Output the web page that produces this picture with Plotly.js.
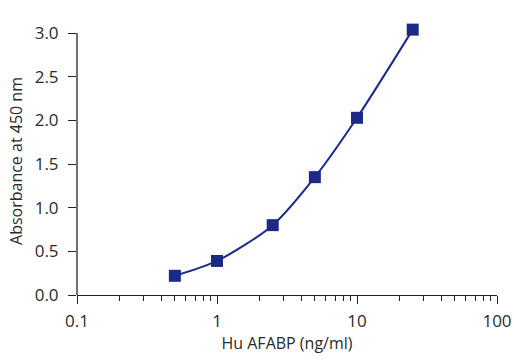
<!DOCTYPE html>
<html><head><meta charset="utf-8">
<script src="https://cdn.plot.ly/plotly-3.0.1.min.js"></script>
<style>html,body{margin:0;padding:0;background:#fff;}#c{width:514px;height:361px;}</style>
</head><body><div id="c"></div>
<script>
const concentration = [0.5, 1, 2.5, 5, 10, 25];
const absorbance = [0.22, 0.39, 0.80, 1.35, 2.03, 3.04];
const xTickVals = [0.1, 1, 10, 100];
const xTickText = ['0.1', '1', '10', '100'];
const xMinorVals = [0.2,0.3,0.4,0.5,0.6,0.7,0.8,0.9,2,3,4,5,6,7,8,9,20,30,40,50,60,70,80,90];
const yTickVals = [0, 0.5, 1, 1.5, 2, 2.5, 3];
const yTickText = ['0.0', '0.5', '1.0', '1.5', '2.0', '2.5', '3.0'];

const font = "'Open Sans', 'Noto Sans', sans-serif";
const navy = '#1b2a84';
const axisColor = '#222';
const textColor = '#2a2a2a';

Plotly.newPlot('c', [{
  x: concentration, y: absorbance, type: 'scatter', mode: 'lines+markers',
  line: {shape: 'spline', smoothing: 0.8, color: navy, width: 2},
  marker: {symbol: 'square', size: 12, color: navy},
  cliponaxis: false, hoverinfo: 'none'
}], {
  width: 514, height: 361,
  margin: {l: 77, r: 17, t: 27, b: 66},
  paper_bgcolor: '#fff', plot_bgcolor: '#fff',
  showlegend: false,
  font: {family: font, size: 16, color: textColor},
  shapes: [{type: 'line', xref: 'paper', x0: 0, x1: 0, yref: 'y', y0: 0, y1: 3,
            line: {color: axisColor, width: 1.3}}],
  xaxis: {
    type: 'log', range: [-1, 2],
    tickvals: xTickVals, ticktext: xTickText,
    ticks: 'outside', ticklen: 8, tickwidth: 1, tickcolor: axisColor,
    ticklabelstandoff: 2,
    showline: true, linecolor: axisColor, linewidth: 1.3,
    showgrid: false, zeroline: false,
    minor: {tickvals: xMinorVals, ticks: 'outside', ticklen: 5, tickcolor: axisColor, showgrid: false},
    title: {text: 'Hu AFABP (ng/ml)', font: {size: 16, color: textColor}, standoff: 6},
    tickfont: {size: 17, color: textColor}
  },
  yaxis: {
    range: [0, 3.07],
    tickvals: yTickVals, ticktext: yTickText,
    ticks: 'outside', ticklen: 8, tickwidth: 1, tickcolor: axisColor,
    ticklabelstandoff: 6,
    showline: false,
    showgrid: false, zeroline: false,
    title: {text: 'Absorbance at 450 nm', font: {size: 16, color: textColor}, standoff: 8},
    tickfont: {size: 17, color: textColor}
  }
}, {staticPlot: true});
</script></body></html>
